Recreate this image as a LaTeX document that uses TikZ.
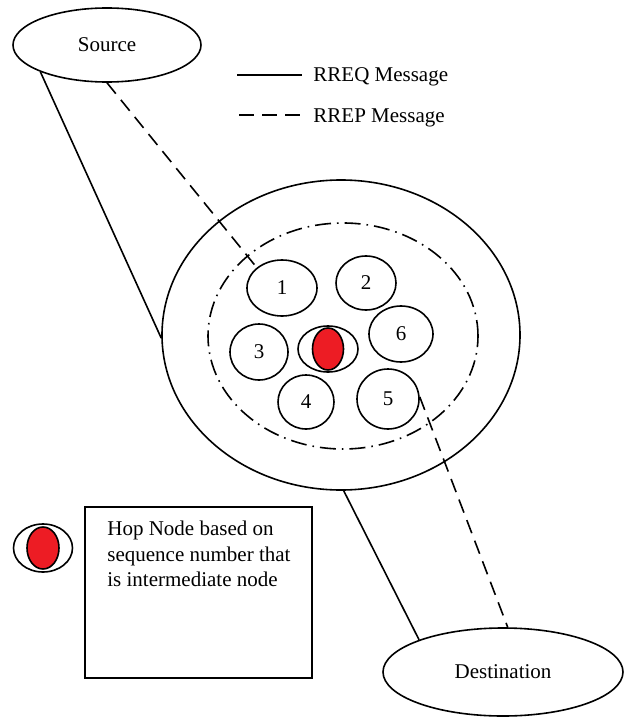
\documentclass[tikz,border=0pt]{standalone}
\usepackage{fontspec}
\setmainfont{Liberation Serif}
\usetikzlibrary{shapes.geometric}
\definecolor{hopred}{RGB}{237,28,36}

\begin{document}
\begin{tikzpicture}[x=0.5pt,y=-0.5pt,
  font=\fontsize{10.5}{12.75}\selectfont,
  oval/.style={ellipse,draw,line width=0.8pt,inner sep=0pt},
  core/.style={oval,fill=hopred},
  zone/.style={oval,dash pattern=on 8pt off 3pt on 0.8pt off 3pt},
  reqline/.style={line width=0.8pt},
  repline/.style={line width=0.8pt,dash pattern=on 7pt off 4pt},
  keytext/.style={anchor=base west,inner sep=0pt}]
\useasboundingbox (0,0) rectangle (624,717);
% end points
\node[oval,minimum width=94pt,minimum height=37pt] (source) at (107,45) {Source};
\node[oval,minimum width=120pt,minimum height=44pt] (dest) at (503,672) {Destination};
% network
\node[oval,minimum width=179pt,minimum height=155pt] (cloud) at (341,335) {};
\node[zone,minimum width=135pt,minimum height=113pt] (range) at (343,336) {};
\node[oval,minimum width=35pt,minimum height=28pt] (n1) at (282,288) {1};
\node[oval,minimum width=30pt,minimum height=27pt] (n2) at (366,283) {2};
\node[oval,minimum width=29pt,minimum height=28pt] (n3) at (259,352) {3};
\node[oval,minimum width=28pt,minimum height=27pt] (n4) at (306,402) {4};
\node[oval,minimum width=31pt,minimum height=30pt] (n5) at (388,399) {5};
\node[oval,minimum width=32pt,minimum height=28pt] (n6) at (401,334) {6};
\node[oval,minimum width=30pt,minimum height=23pt] (hop) at (328,349) {};
\node[core,minimum width=15.5pt,minimum height=21pt] (hopcore) at (328,349) {};
% messages
\draw[reqline] (source.202) -- (cloud.181);
\draw[repline] (source.south) -- (n1.141);
\draw[reqline] (cloud.-89) -- (dest.159);
\draw[repline] (n5.4) -- (dest.84);
% legend
\coordinate (reqa) at (237,75);
\coordinate (reqb) at (302,75);
\coordinate (repa) at (239,115);
\coordinate (repb) at (300,115);
\draw[reqline] (reqa) -- (reqb);
\draw[repline,dash pattern=on 7.5pt off 4pt] (repa) -- (repb);
\node[keytext] (reqtext) at (313,82) {RREQ Message};
\node[keytext] (reptext) at (313,122) {RREP Message};
% hop node key
\node[oval,minimum width=29.5pt,minimum height=24pt] (keyhop) at (43,548) {};
\node[core,minimum width=16pt,minimum height=21pt] (keycore) at (43,548) {};
\node[draw,line width=0.9pt,minimum width=113.5pt,minimum height=85.5pt,inner sep=0pt] (note) at (198.5,592.5) {};
\node[anchor=north west,align=left,inner sep=0pt] (notetext) at (107,521) {Hop Node based on\\sequence number that\\is intermediate node};
\end{tikzpicture}
\end{document}
